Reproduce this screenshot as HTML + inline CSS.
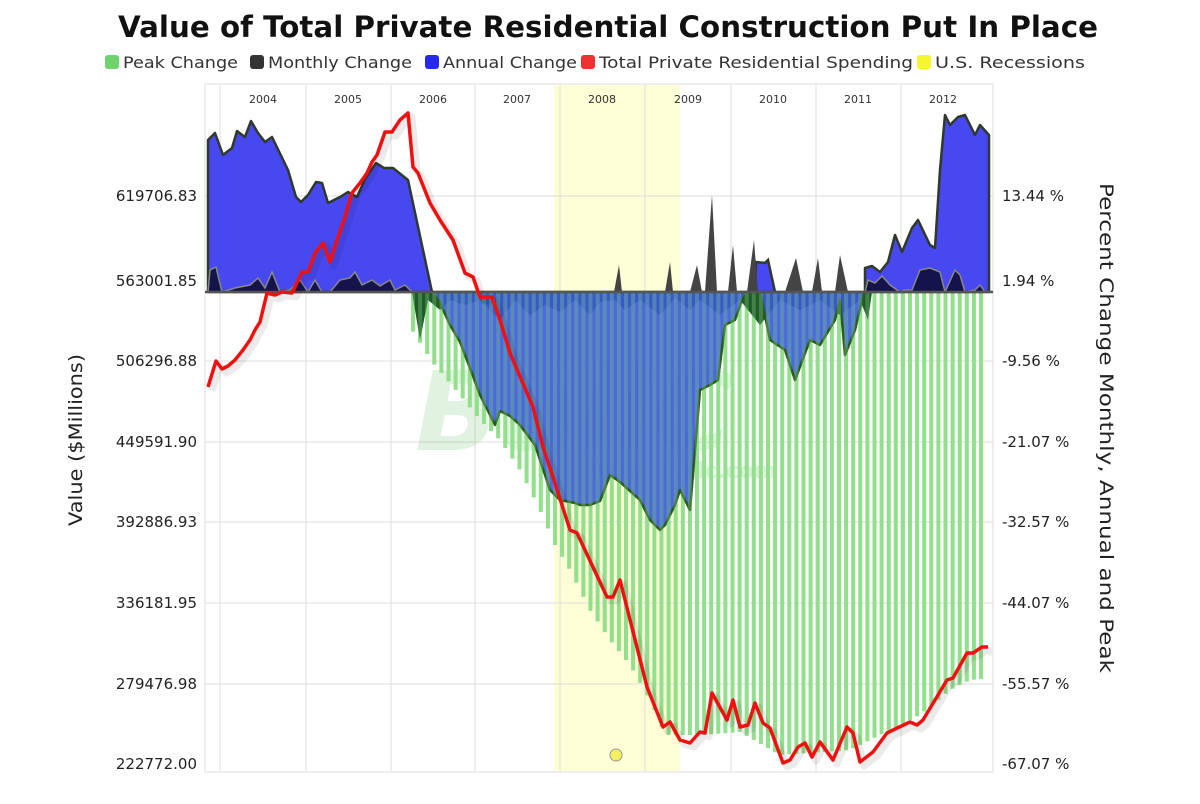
<!DOCTYPE html>
<html><head><meta charset="utf-8"><style>
body{margin:0;background:#fff;width:1200px;height:800px;overflow:hidden;font-family:"DejaVu Sans",sans-serif}
</style></head><body>
<svg id="s" width="1200" height="800" xmlns="http://www.w3.org/2000/svg" font-family="DejaVu Sans, sans-serif">
<rect width="1200" height="800" fill="#fff"/>
<text x="608" y="37" text-anchor="middle" font-size="29" font-weight="bold" fill="#111" textLength="980" lengthAdjust="spacingAndGlyphs">Value of Total Private Residential Construction Put In Place</text>
<g font-size="16" fill="#333">
<rect x="105" y="55" width="14" height="14" rx="3" fill="#6fd36f"/><text x="123" y="68" textLength="115" lengthAdjust="spacingAndGlyphs">Peak Change</text>
<rect x="250" y="55" width="14" height="14" rx="3" fill="#333"/><text x="268" y="68" textLength="144" lengthAdjust="spacingAndGlyphs">Monthly Change</text>
<rect x="425" y="55" width="14" height="14" rx="3" fill="#2828e8"/><text x="443" y="68" textLength="134" lengthAdjust="spacingAndGlyphs">Annual Change</text>
<rect x="581" y="55" width="14" height="14" rx="3" fill="#f03030"/><text x="599" y="68" textLength="314" lengthAdjust="spacingAndGlyphs">Total Private Residential Spending</text>
<rect x="917" y="55" width="14" height="14" rx="3" fill="#f5f530"/><text x="935" y="68" textLength="150" lengthAdjust="spacingAndGlyphs">U.S. Recessions</text>
</g>
<rect x="205" y="84" width="788" height="688" fill="#fff" stroke="#ddd"/>
<rect x="554" y="85" width="126" height="686" fill="#fdfdd6"/>
<g stroke="#ddd" stroke-width="1">
<line x1="220" y1="85" x2="220" y2="771"/><line x1="306" y1="85" x2="306" y2="771"/><line x1="391" y1="85" x2="391" y2="771"/><line x1="475" y1="85" x2="475" y2="771"/><line x1="560" y1="85" x2="560" y2="771"/><line x1="645" y1="85" x2="645" y2="771"/><line x1="731" y1="85" x2="731" y2="771"/><line x1="816" y1="85" x2="816" y2="771"/><line x1="901" y1="85" x2="901" y2="771"/>
<line x1="205" y1="196" x2="993" y2="196"/><line x1="205" y1="361" x2="993" y2="361"/><line x1="205" y1="442" x2="993" y2="442"/><line x1="205" y1="522" x2="993" y2="522"/><line x1="205" y1="603" x2="993" y2="603"/><line x1="205" y1="684" x2="993" y2="684"/>
</g>
<g font-size="11" fill="#333" text-anchor="middle">
<text x="263" y="103">2004</text><text x="348" y="103">2005</text><text x="433" y="103">2006</text><text x="517" y="103">2007</text><text x="602" y="103">2008</text><text x="688" y="103">2009</text><text x="773" y="103">2010</text><text x="858" y="103">2011</text><text x="943" y="103">2012</text>
</g>
<text x="415" y="450" font-size="110" font-weight="bold" font-style="italic" fill="#8c8" opacity="0.25">BullC</text>
<text x="590" y="478" font-size="22" font-weight="bold" fill="#8c8" opacity="0.3">www.bullc.com</text>
<g id="bars"></g>
<polygon fill="#1f5a2a" points="412,292 420,340 428,300 440,310 450,300 465,305 480,300 500,320 515,300 530,315 545,305 560,312 575,300 590,315 600,302 615,300 625,310 640,300 660,315 675,298 690,310 700,300 720,315 740,300 760,325 780,300 800,310 820,300 840,315 860,300 868,320 872,292"/>
<polygon fill="#4848f0" stroke="#2f3a2a" stroke-width="2.5" stroke-linejoin="round" points="208,292 208,140 215,133 223,155 232,148 237,131 245,137 251,121 258,133 265,142 272,137 288,170 296,197 301,202 308,195 316,182 322,183 328,203 340,197 348,192 357,197 365,179 376,163 384,168 393,168 408,180 432,292"/>
<polygon fill="#3a5ad8" fill-opacity="0.9" stroke="#2b5a1a" stroke-width="2.5" stroke-linejoin="round" points="432,292 440,303 450,325 460,342 470,368 480,395 490,415 495,425 500,411 510,416 520,425 535,445 550,490 560,500 575,503 580,505 590,505 600,501 610,475 620,482 640,500 650,520 660,530 665,525 675,505 680,490 690,510 700,390 710,385 718,380 725,325 735,320 742,300 748,292 760,292 770,340 785,350 795,380 810,340 820,345 835,320 840,300 845,355 855,330 862,300 865,292"/>
<g id="bars2" opacity="0.3"></g>
<polygon fill="#4848f0" stroke="#2f3a2a" stroke-width="2.5" points="755,292 756,262 765,263 768,260 775,292"/>
<polygon fill="#4848f0" stroke="#2f3a2a" stroke-width="2.5" stroke-linejoin="round" points="865,292 865,268 872,266 880,272 888,262 895,235 902,252 912,228 918,220 930,245 935,248 940,170 945,115 950,125 958,117 965,115 975,135 980,125 989,135 989,292"/>
<polygon fill="#14144a" stroke="#888" stroke-width="1.5" points="208,292 210,270 216,267 222,292 235,288 250,285 258,278 265,288 272,272 280,292 290,290 300,280 308,292 315,280 322,292 330,292 340,280 350,278 355,272 362,285 372,280 380,286 390,280 395,290 405,285 412,292"/>
<polygon fill="#14144a" stroke="#888" stroke-width="1.5" points="865,292 868,280 875,283 882,276 890,285 900,292 905,290 912,290 920,270 930,268 940,272 945,292 955,270 960,275 965,292 975,290 980,285 985,292"/>
<g fill="#444">
<polygon points="614,292 619,265 622,292"/><polygon points="665,292 670,262 673,292"/><polygon points="690,292 697,265 702,292"/><polygon points="705,292 712,195 717,292"/><polygon points="728,292 733,245 737,292"/><polygon points="747,292 754,240 758,292"/><polygon points="785,292 796,258 803,292"/><polygon points="812,292 818,258 822,292"/><polygon points="835,292 840,255 848,292"/>
</g>
<line x1="205" y1="292" x2="993" y2="292" stroke="#555" stroke-width="2.5"/>
<polyline id="shadow" fill="none" stroke="#000" stroke-opacity="0.08" stroke-width="7" stroke-linejoin="round" transform="translate(4,4)"/>
<polyline id="red" fill="none" stroke="#f01010" stroke-width="3.5" stroke-linejoin="round" points="208,387 216,361 222,369 228,366 235,360 243,350 250,340 255,330 260,322 267,293 275,295 282,292 292,293 302,272 308,272 315,253 323,243 330,262 337,240 343,223 352,193 360,183 367,173 372,162 377,155 385,132 392,132 400,120 408,113 413,167 418,173 430,203 440,220 453,240 465,273 473,277 480,297 492,297 500,320 510,353 533,407 543,447 553,477 570,530 577,533 607,597 613,597 620,580 647,687 663,727 670,722 680,740 690,743 700,732 705,733 712,693 727,720 733,700 740,727 748,725 755,703 763,723 770,728 783,763 790,760 798,747 805,743 812,757 820,742 833,760 847,727 853,733 860,762 873,752 887,733 893,730 910,722 917,725 923,720 947,680 953,678 967,653 973,653 982,647 988,647"/>
<circle cx="616" cy="755" r="6" fill="#f4f060" stroke="#999"/>
<g font-size="15" fill="#222" text-anchor="end">
<text x="197" y="201">619706.83</text><text x="197" y="286">563001.85</text><text x="197" y="366">506296.88</text><text x="197" y="447">449591.90</text><text x="197" y="527">392886.93</text><text x="197" y="608">336181.95</text><text x="197" y="689">279476.98</text><text x="197" y="769">222772.00</text>
</g>
<g font-size="15" fill="#222">
<text x="1002" y="201">13.44 %</text><text x="1002" y="286">1.94 %</text><text x="1002" y="366">-9.56 %</text><text x="1002" y="447">-21.07 %</text><text x="1002" y="527">-32.57 %</text><text x="1002" y="608">-44.07 %</text><text x="1002" y="689">-55.57 %</text><text x="1002" y="769">-67.07 %</text>
</g>
<text transform="translate(82,440) rotate(-90)" text-anchor="middle" font-size="19" fill="#222" textLength="172" lengthAdjust="spacingAndGlyphs">Value ($Millions)</text>
<text transform="translate(1100,428) rotate(90)" text-anchor="middle" font-size="19" fill="#222" textLength="490" lengthAdjust="spacingAndGlyphs">Percent Change Monthly, Annual and Peak</text>
</svg>
<script>
var env=[[412,330],[433,363],[460,395],[480,420],[500,440],[520,470],[540,510],[555,545],[570,570],[590,610],[610,640],[630,665],[650,700],[665,735],[700,735],[740,732],[780,755],[850,750],[880,735],[920,715],[950,690],[970,680],[990,678]];
function f(x){for(var i=0;i<env.length-1;i++){var a=env[i],b=env[i+1];if(x>=a[0]&&x<=b[0])return a[1]+(b[1]-a[1])*(x-a[0])/(b[0]-a[0]);}return 678;}
var h='';
for(var x=413;x<=988;x+=7.1){h+='<rect x="'+(x-2).toFixed(1)+'" y="292" width="4" height="'+(f(x)-292).toFixed(1)+'" fill="#92df8c"/>';}
document.getElementById('bars').innerHTML=h;
document.getElementById('bars2').innerHTML=h;
document.getElementById('shadow').setAttribute('points',document.getElementById('red').getAttribute('points'));
</script>
</body></html>
